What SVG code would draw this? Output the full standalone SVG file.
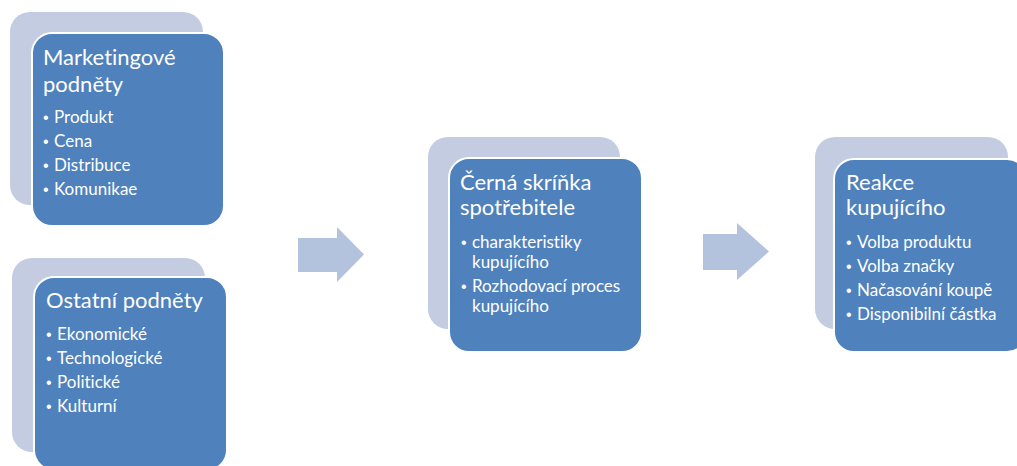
<svg xmlns="http://www.w3.org/2000/svg" width="1017" height="466" viewBox="0 0 1017 466">
<style>
.back{fill:#C3CCE0;}
.front{fill:#4F81BD;stroke:#FFFFFF;stroke-width:2;}
.arrow{fill:#B3C2DD;}
text{font-family:Lato,"Liberation Sans",sans-serif;fill:#FFFFFF;font-variant-ligatures:none;}
.t{font-size:22px;}
.b{font-size:17px;}
.d{font-family:"Liberation Sans",sans-serif;font-size:16px;}
</style>
<rect width="1017" height="466" fill="#FFFFFF"/>
<g id="connectors">
<polygon class="arrow" points="298,238 337,238 337,227 364,254.5 337,282 337,272 298,272"/>
<polygon class="arrow" points="703,234 737,234 737,223 769,251.5 737,280 737,270 703,270"/>
</g>
<g id="node-marketing">
<rect class="back" x="10" y="12" width="193" height="193" rx="20"/>
<rect class="front" x="32" y="33" width="192" height="193" rx="20"/>
<text class="t" x="43" y="65">Marketingové</text>
<text class="t" x="43" y="92">podněty</text>
<text class="d" x="43" y="122.5">•</text><text class="b" x="54" y="122.5">Produkt</text>
<text class="d" x="43" y="146.5">•</text><text class="b" x="54" y="146.5">Cena</text>
<text class="d" x="43" y="170.5">•</text><text class="b" x="54" y="170.5">Distribuce</text>
<text class="d" x="43" y="194.5">•</text><text class="b" x="54" y="194.5">Komunikae</text>
</g>
<g id="node-ostatni">
<rect class="back" x="12" y="258" width="193" height="194" rx="20"/>
<rect class="front" x="34" y="277" width="193" height="193" rx="20"/>
<text class="t" x="46" y="308">Ostatní podněty</text>
<text class="d" x="46" y="339.5">•</text><text class="b" x="57" y="339.5">Ekonomické</text>
<text class="d" x="46" y="363.5">•</text><text class="b" x="57" y="363.5">Technologické</text>
<text class="d" x="46" y="387.5">•</text><text class="b" x="57" y="387.5">Politické</text>
<text class="d" x="46" y="411.5">•</text><text class="b" x="57" y="411.5">Kulturní</text>
</g>
<g id="node-cerna">
<rect class="back" x="428" y="137" width="192" height="192" rx="20"/>
<rect class="front" x="449" y="158" width="193" height="194" rx="20"/>
<text class="t" x="460" y="190">Černá skríňka</text>
<text class="t" x="460" y="215">spotřebitele</text>
<text class="d" x="461" y="248">•</text><text class="b" x="472" y="248">charakteristiky</text>
<text class="b" x="472" y="268">kupujícího</text>
<text class="d" x="461" y="292">•</text><text class="b" x="472" y="292">Rozhodovací proces</text>
<text class="b" x="472" y="312">kupujícího</text>
</g>
<g id="node-reakce">
<rect class="back" x="815" y="137" width="193" height="192" rx="20"/>
<rect class="front" x="834" y="159" width="193" height="193" rx="20"/>
<text class="t" x="846" y="190">Reakce</text>
<text class="t" x="846" y="215">kupujícího</text>
<text class="d" x="846" y="248">•</text><text class="b" x="857" y="248">Volba produktu</text>
<text class="d" x="846" y="272">•</text><text class="b" x="857" y="272">Volba značky</text>
<text class="d" x="846" y="296">•</text><text class="b" x="857" y="296">Načasování koupě</text>
<text class="d" x="846" y="320">•</text><text class="b" x="857" y="320">Disponibilní částka</text>
</g>
</svg>
